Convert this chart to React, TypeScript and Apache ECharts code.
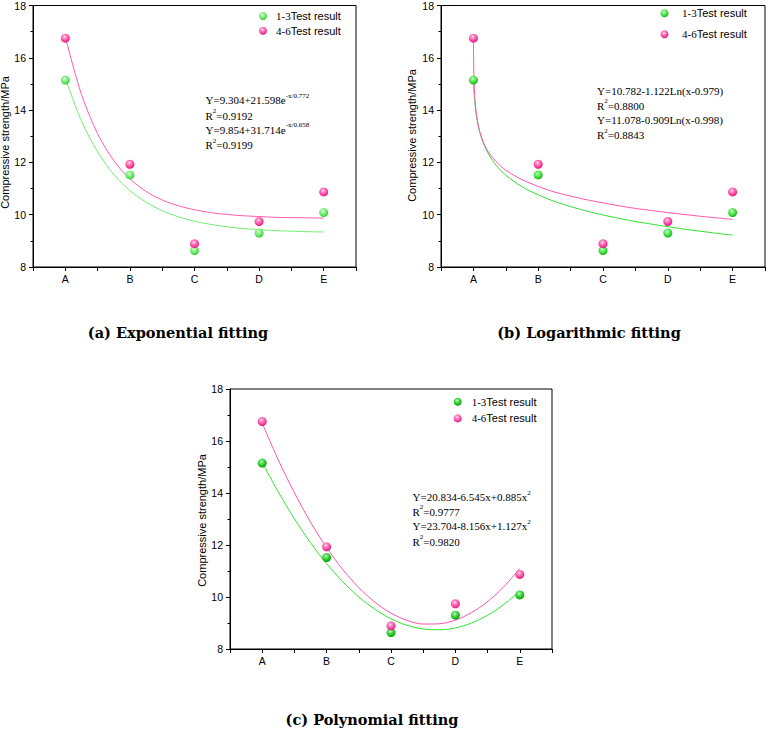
import React, { useEffect, useRef } from "react";
import * as echarts from "echarts";

const categories = ["A", "B", "C", "D", "E"];
const categoryX = [1, 2, 3, 4, 5];
const strength13 = [15.15, 11.52, 8.63, 9.3, 10.08];
const strength46 = [16.75, 11.93, 8.89, 9.74, 10.87];

const expX = [1, 1.25, 1.5, 1.75, 2, 2.25, 2.5, 2.75, 3, 3.25, 3.5, 3.75, 4, 4.25, 4.5, 4.75, 5];
const expFit13 = [15.22, 13.58, 12.4, 11.54, 10.92, 10.48, 10.15, 9.92, 9.75, 9.63, 9.54, 9.47, 9.43, 9.39, 9.37, 9.35, 9.34];
const expFit46 = [16.79, 14.6, 13.1, 12.07, 11.37, 10.89, 10.56, 10.34, 10.19, 10.08, 10.01, 9.96, 9.93, 9.9, 9.89, 9.88, 9.87];

const logX = [1, 1.005, 1.01, 1.02, 1.03, 1.045, 1.06, 1.08, 1.1, 1.15, 1.2, 1.25, 1.35, 1.5, 1.75, 2, 2.25, 2.5, 2.75, 3, 3.25, 3.5, 3.75, 4, 4.25, 4.5, 4.75, 5];
const logFit13 = [15.12, 14.88, 14.68, 14.37, 14.12, 13.83, 13.6, 13.35, 13.15, 12.76, 12.48, 12.25, 11.89, 11.51, 11.07, 10.76, 10.51, 10.31, 10.14, 9.99, 9.86, 9.74, 9.64, 9.54, 9.45, 9.37, 9.29, 9.22];
const logFit46 = [16.73, 15.59, 15.1, 14.55, 14.21, 13.86, 13.61, 13.35, 13.15, 12.79, 12.53, 12.33, 12.03, 11.7, 11.34, 11.08, 10.87, 10.71, 10.57, 10.45, 10.34, 10.24, 10.16, 10.08, 10.01, 9.94, 9.88, 9.82];

const polyX = [1, 1.25, 1.5, 1.75, 2, 2.25, 2.5, 2.75, 3, 3.25, 3.5, 3.75, 4, 4.25, 4.5, 4.75, 5];
const polyFit13 = [15.17, 14.04, 13.01, 12.09, 11.28, 10.59, 10.0, 9.53, 9.16, 8.91, 8.77, 8.74, 8.81, 9.0, 9.3, 9.71, 10.23];
const polyFit46 = [16.68, 15.27, 14.01, 12.88, 11.9, 11.06, 10.36, 9.8, 9.38, 9.1, 8.96, 8.97, 9.11, 9.4, 9.82, 10.39, 11.1];

const seriesNames = ["1-3Test result", "4-6Test result"];
const panelTitles = ["(a) Exponential fitting", "(b) Logarithmic fitting", "(c) Polynomial fitting"];
const yAxisName = "Compressive strength/MPa";

// equation lines: [main, superscript, tail]
const eqA = [
  ["Y=9.304+21.598e", "-x/0.772", ""],
  ["R", "2", "=0.9192"],
  ["Y=9.854+31.714e", "-x/0.658", ""],
  ["R", "2", "=0.9199"],
];
const eqB = [
  ["Y=10.782-1.122Ln(x-0.979)", "", ""],
  ["R", "2", "=0.8800"],
  ["Y=11.078-0.909Ln(x-0.998)", "", ""],
  ["R", "2", "=0.8843"],
];
const eqC = [
  ["Y=20.834-6.545x+0.885x", "2", ""],
  ["R", "2", "=0.9777"],
  ["Y=23.704-8.156x+1.127x", "2", ""],
  ["R", "2", "=0.9820"],
];

const zip = (xs: number[], ys: number[]) => xs.map((x, i) => [x, ys[i]]);

const sphere = (light: string, base: string, dark: string) => ({
  type: "radial",
  x: 0.42,
  y: 0.35,
  r: 0.65,
  colorStops: [
    { offset: 0, color: "#ffffff" },
    { offset: 0.2, color: light },
    { offset: 0.65, color: base },
    { offset: 1, color: dark },
  ],
});

const panels = [
  {
    grid: { left: 33, top: 5, width: 323, height: 262 },
    fitX: expX, fit13: expFit13, fit46: expFit46,
    green: sphere("#aaf7aa", "#66e866", "#3cc83c"),
    pink: sphere("#ff9fcf", "#ff4aa5", "#d81e7e"),
    lineGreen: "#70ee70", linePink: "#ff5cae",
    legend: { left: 259, top: 10, itemWidth: 16, itemGap: 2.7 },
    yName: { x: 5, y: 142.5 },
    eq: eqA, eqX: 205.5, eqY: [100, 115.5, 129.5, 145],
    title: { x: 178, y: 332 },
  },
  {
    grid: { left: 441, top: 4, width: 325, height: 263 },
    fitX: logX, fit13: logFit13, fit46: logFit46,
    green: sphere("#8ff58f", "#3ade3a", "#1fae1f"),
    pink: sphere("#ff9fcf", "#ff45a2", "#d81e7e"),
    lineGreen: "#2ee02e", linePink: "#ff55aa",
    legend: { left: 660.5, top: 7.3, itemWidth: 25, itemGap: 9 },
    yName: { x: 412, y: 135.5 },
    eq: eqB, eqX: 597, eqY: [91, 105.5, 119.5, 135],
    title: { x: 589, y: 332 },
  },
  {
    grid: { left: 230, top: 389, width: 322, height: 260 },
    fitX: polyX, fit13: polyFit13, fit46: polyFit46,
    green: sphere("#7fe87f", "#22c822", "#119a11"),
    pink: sphere("#ff9fcf", "#ff4aa5", "#d81e7e"),
    lineGreen: "#2ee62e", linePink: "#ff55aa",
    legend: { left: 453.7, top: 395.7, itemWidth: 18, itemGap: 4.7 },
    yName: { x: 202, y: 520.5 },
    eq: eqC, eqX: 412.5, eqY: [497, 511.5, 526, 541.5],
    title: { x: 372, y: 719 },
  },
];

const SANS = "'Liberation Sans', Arial, sans-serif";
const SERIF = "'Liberation Serif', 'Times New Roman', serif";
const TITLE_SERIF = "'DejaVu Serif', 'Liberation Serif', serif";

function buildOption() {
  const grid: any[] = [];
  const xAxis: any[] = [];
  const yAxis: any[] = [];
  const series: any[] = [];
  const legend: any[] = [];
  const graphic: any[] = [];

  panels.forEach((p, i) => {
    grid.push({ ...p.grid, show: true, borderColor: "#000", borderWidth: 1, backgroundColor: "transparent" });
    xAxis.push({
      type: "value",
      gridIndex: i,
      min: 0.5,
      max: 5.5,
      interval: 0.5,
      axisLine: { show: true, onZero: false, lineStyle: { color: "#000", width: 1 } },
      axisTick: { show: true, inside: false, length: 4, lineStyle: { color: "#000" } },
      splitLine: { show: false },
      axisLabel: {
        color: "#000",
        fontFamily: SANS,
        fontSize: 10.5,
        margin: 6,
        formatter: (v: number) => {
          const r = Math.round(v);
          return Math.abs(v - r) < 1e-6 && r >= 1 && r <= 5 ? categories[r - 1] : "";
        },
      },
    });
    yAxis.push({
      type: "value",
      gridIndex: i,
      min: 8,
      max: 18,
      interval: 2,
      axisLine: { show: true, lineStyle: { color: "#000", width: 1 } },
      axisTick: { show: true, inside: false, length: 4, lineStyle: { color: "#000" } },
      minorTick: { show: true, splitNumber: 2, length: 2.5, lineStyle: { color: "#000" } },
      splitLine: { show: false },
      axisLabel: { color: "#000", fontFamily: SANS, fontSize: 10.5, margin: 7 },
    });

    series.push({
      type: "line",
      name: "fit13-" + i,
      xAxisIndex: i,
      yAxisIndex: i,
      data: zip(p.fitX, p.fit13),
      smooth: 0.3,
      showSymbol: false,
      symbol: "none",
      lineStyle: { color: p.lineGreen, width: 1 },
      z: 2,
    });
    series.push({
      type: "line",
      name: "fit46-" + i,
      xAxisIndex: i,
      yAxisIndex: i,
      data: zip(p.fitX, p.fit46),
      smooth: 0.3,
      showSymbol: false,
      symbol: "none",
      lineStyle: { color: p.linePink, width: 1 },
      z: 2,
    });
    series.push({
      type: "scatter",
      name: seriesNames[0],
      xAxisIndex: i,
      yAxisIndex: i,
      data: zip(categoryX, strength13),
      symbol: "circle",
      symbolSize: 9,
      itemStyle: { color: p.green, opacity: 1 },
      z: 4,
    });
    series.push({
      type: "scatter",
      name: seriesNames[1],
      xAxisIndex: i,
      yAxisIndex: i,
      data: zip(categoryX, strength46),
      symbol: "circle",
      symbolSize: 9,
      itemStyle: { color: p.pink, opacity: 1 },
      z: 4,
    });

    legend.push({
      orient: "vertical",
      left: p.legend.left,
      top: p.legend.top,
      padding: 0,
      itemWidth: p.legend.itemWidth,
      itemHeight: 8,
      itemGap: p.legend.itemGap,
      icon: "circle",
      selectedMode: false,
      data: [
        { name: seriesNames[0], itemStyle: { color: p.green } },
        { name: seriesNames[1], itemStyle: { color: p.pink } },
      ],
      formatter: (name: string) => {
        const m = name.match(/^([\d-]+)(.*)$/);
        return m ? `{s|${m[1]}}{t|${m[2]}}` : name;
      },
      textStyle: {
        color: "#000",
        lineHeight: 12,
        rich: {
          s: { fontFamily: SERIF, fontSize: 11, color: "#000", lineHeight: 12 },
          t: { fontFamily: SANS, fontSize: 11, color: "#000", lineHeight: 12 },
        },
      },
    });

    graphic.push({
      type: "text",
      x: p.yName.x,
      y: p.yName.y,
      rotation: Math.PI / 2,
      style: {
        text: yAxisName,
        fontFamily: SANS,
        fontSize: 11,
        fill: "#000",
        align: "center",
        verticalAlign: "middle",
      },
    });

    p.eq.forEach((line, k) => {
      const [main, sup, tail] = line;
      let t = `{n|${main}}`;
      if (sup) t += `{s|${sup}}`;
      if (tail) t += `{n|${tail}}`;
      graphic.push({
        type: "text",
        x: p.eqX,
        y: p.eqY[k],
        style: {
          text: t,
          align: "left",
          verticalAlign: "middle",
          rich: {
            n: { fontFamily: SERIF, fontSize: 11, fill: "#000", lineHeight: 16, verticalAlign: "middle" },
            s: { fontFamily: SERIF, fontSize: 7, fill: "#000", lineHeight: 8, verticalAlign: "top" },
          },
        },
      });
    });

    graphic.push({
      type: "text",
      x: p.title.x,
      y: p.title.y,
      style: {
        text: panelTitles[i],
        fontFamily: TITLE_SERIF,
        fontWeight: "bold",
        fontSize: 14.5,
        fill: "#000",
        align: "center",
        verticalAlign: "middle",
      },
    });
  });

  return {
    animation: false,
    backgroundColor: "#fff",
    grid,
    xAxis,
    yAxis,
    series,
    legend,
    graphic,
  };
}

export default function App() {
  const ref = useRef<HTMLDivElement>(null);
  useEffect(() => {
    document.body.style.margin = "0";
    if (!ref.current) return;
    const chart = echarts.init(ref.current, null, { renderer: "svg" });
    chart.setOption(buildOption() as any);
    return () => chart.dispose();
  }, []);
  return <div ref={ref} style={{ width: 768, height: 729 }} />;
}
